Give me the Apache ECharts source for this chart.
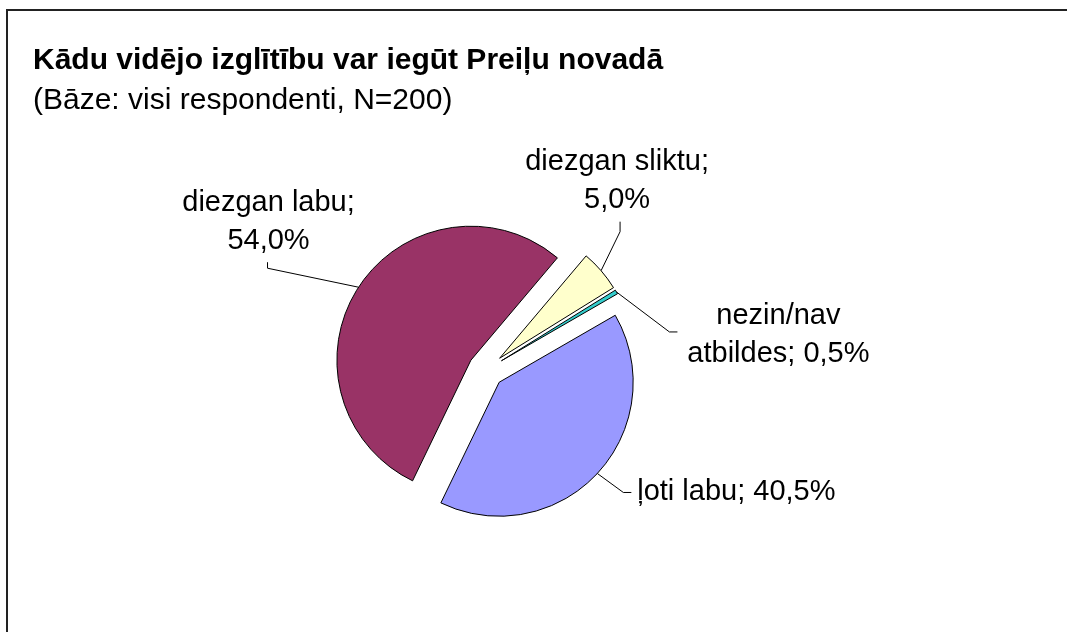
<!DOCTYPE html>
<html>
<head>
<meta charset="utf-8">
<script src="https://cdn.jsdelivr.net/npm/echarts@6/dist/echarts.min.js"></script>
<style>
html, body { margin: 0; padding: 0; background: #fff; }
#chart { width: 1067px; height: 632px; }
</style>
</head>
<body>
<div id="chart"></div>
<script>
// dati
var names = ['ļoti labu', 'diezgan labu', 'diezgan sliktu', 'nezin/nav\natbildes'];
var values = [40.5, 54.0, 5.0, 0.5];
var colors = ['#9999FF', '#993366', '#FFFFCC', '#33CCCC'];

// kā nosaukums un procenti tiek atdalīti
var nameBreaks = [' ', '\n', '\n', ' '];

// etiķetes centrs (c), līnijas lūzums (e) un gals (p) attiecībā pret punktu uz loka
var labelShift = [
    { cx: 139, cy: 19, ex: 26, ey: 19, px: 34, py: 19 },
    { cx: -90, cy: -65, ex: -91, ey: -19, px: -91, py: -25 },
    { cx: 16, cy: -90, ex: 19, ey: -39, px: 19, py: -49 },
    { cx: 162, cy: 43, ex: 53, ey: 40, px: 61, py: 40 }
];

function fmtNum(v) {
    return v.toFixed(1).replace('.', ',');
}

var pieData = [];
for (var i = 0; i < values.length; i++) {
    pieData.push({
        name: names[i],
        value: values[i],
        selected: true,
        itemStyle: { color: colors[i] }
    });
}

var myChart = echarts.init(document.getElementById('chart'));

var option = {
    backgroundColor: '#ffffff',
    animation: false,
    title: {
        text: 'Kādu vidējo izglītību var iegūt Preiļu novadā',
        subtext: '(Bāze: visi respondenti, N=200)',
        left: 33,
        top: 46,
        padding: 0,
        itemGap: 10,
        textStyle: {
            fontFamily: 'Liberation Sans, Arial, sans-serif',
            fontSize: 30,
            fontWeight: 'bold',
            color: '#000'
        },
        subtextStyle: {
            fontFamily: 'Liberation Sans, Arial, sans-serif',
            fontSize: 30,
            color: '#000'
        }
    },
    graphic: [{
        type: 'rect',
        shape: { x: 7, y: 10, width: 1200, height: 800 },
        style: { fill: 'none', stroke: '#222', lineWidth: 2 },
        silent: true,
        z: 100
    }],
    series: [{
        type: 'pie',
        center: [486, 370],
        radius: 134,
        startAngle: 30,
        clockwise: true,
        selectedMode: 'multiple',
        selectedOffset: 18,
        avoidLabelOverlap: false,
        itemStyle: {
            borderColor: '#000',
            borderWidth: 1
        },
        emphasis: { disabled: true },
        label: {
            show: true,
            position: 'outside',
            fontFamily: 'Liberation Sans, Arial, sans-serif',
            fontSize: 29,
            lineHeight: 38,
            color: '#000',
            align: 'center',
            formatter: function (p) {
                return p.name + ';' + nameBreaks[p.dataIndex] + fmtNum(p.value) + '%';
            }
        },
        labelLine: {
            show: true,
            length: 20,
            length2: 8,
            lineStyle: { color: '#000', width: 1 }
        },
        labelLayout: function (params) {
            var s = labelShift[params.dataIndex];
            var pts = params.labelLinePoints;
            if (!pts) {
                return {};
            }
            var a = pts[0];
            var b = pts[2];
            // etiķete pēc noklusējuma stāv 5px aiz līnijas gala
            var side = pts[2][0] >= pts[1][0] ? 5 : -5;
            return {
                dx: a[0] + s.cx - b[0] - side,
                dy: a[1] + s.cy - b[1],
                align: 'center',
                verticalAlign: 'middle',
                labelLinePoints: [
                    [a[0], a[1]],
                    [a[0] + s.ex, a[1] + s.ey],
                    [a[0] + s.px, a[1] + s.py]
                ]
            };
        },
        data: pieData
    }]
};
myChart.setOption(option);
</script>
</body>
</html>
